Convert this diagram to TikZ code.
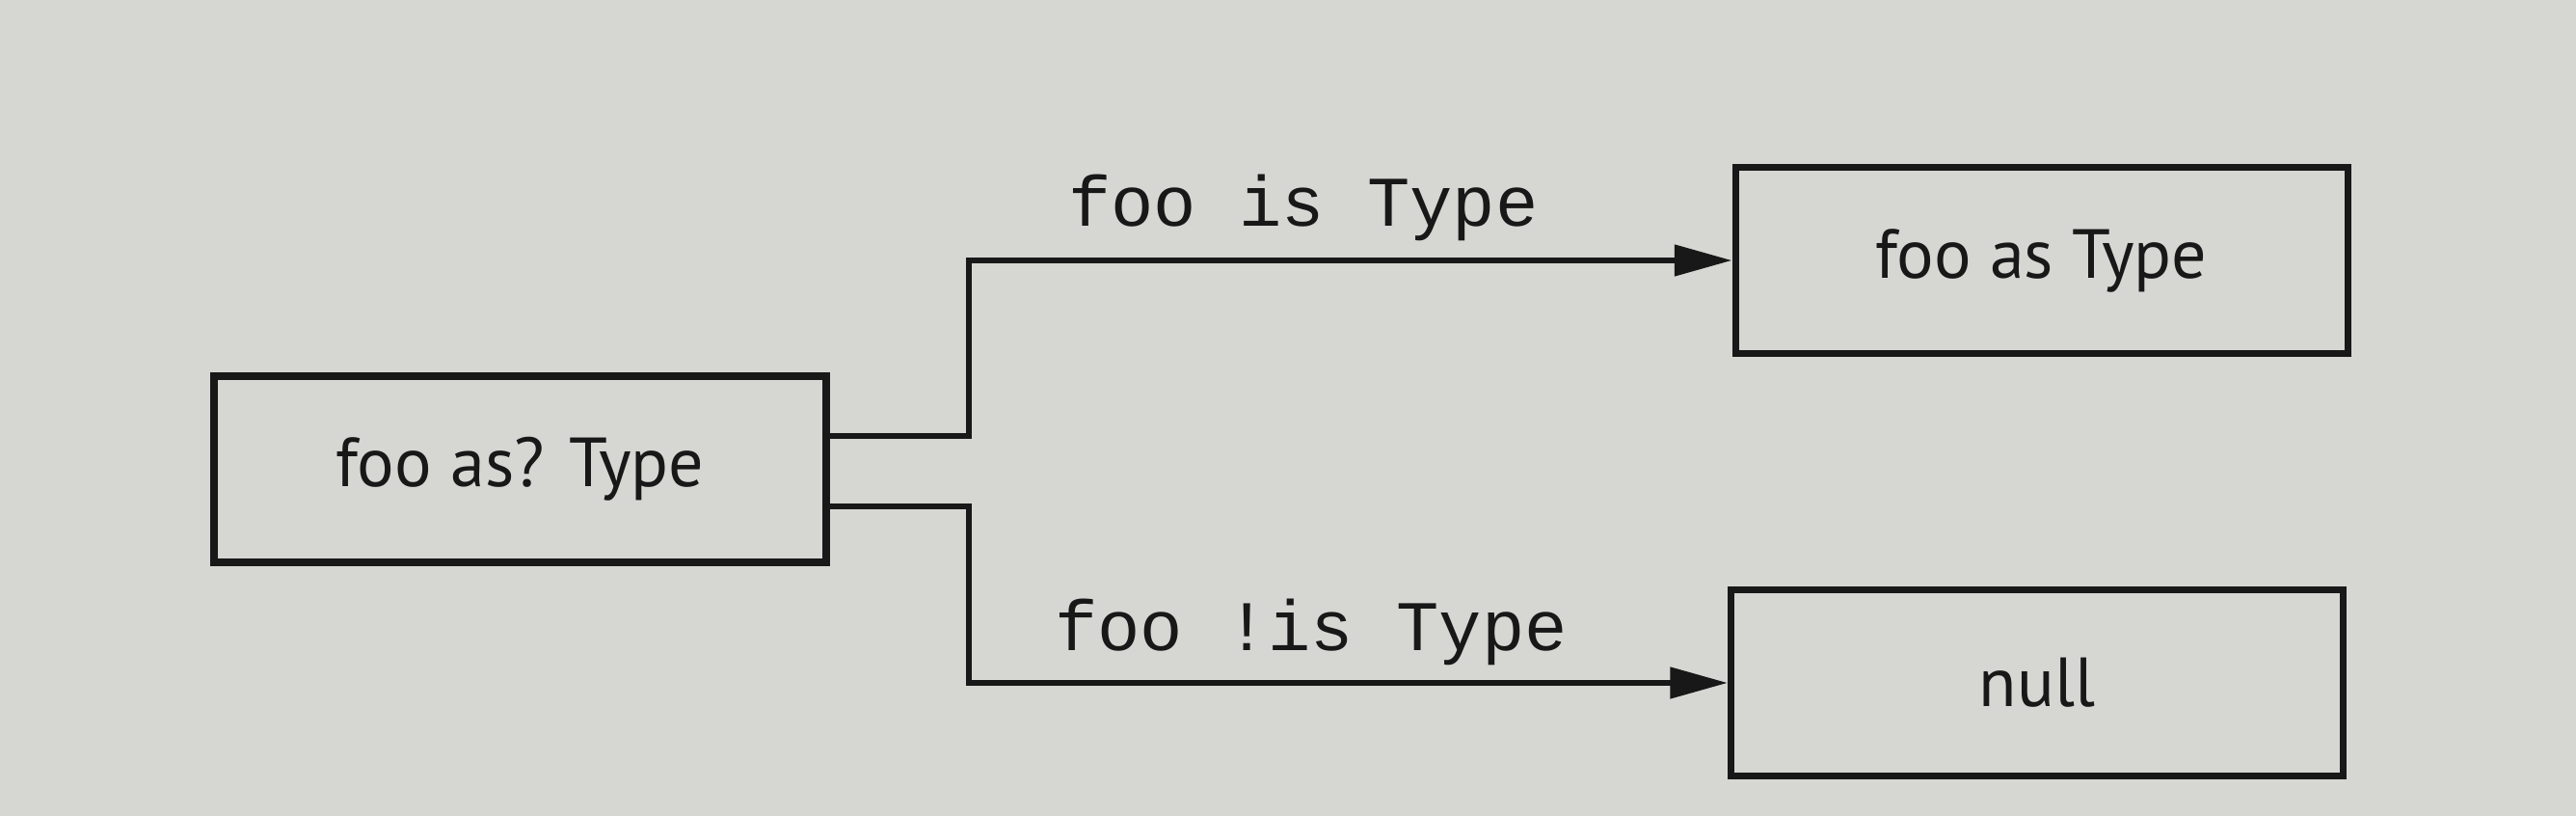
\documentclass[tikz,border=0pt]{standalone}
\usepackage{fontspec}
\setmainfont{PT Sans}
\setmonofont{Liberation Mono}
\usetikzlibrary{arrows.meta}

\definecolor{paper}{RGB}{214,214,211}
\definecolor{ink}{RGB}{24,24,24}

\tikzset{
  box/.style={draw=ink, line width=2pt, minimum width=6.35cm, minimum height=1.93cm,
    font=\fontsize{20.5}{24}\selectfont, text=ink},
  flow/.style={draw=ink, line width=1.7pt, -{Triangle[length=17pt,width=9pt]}},
  cond/.style={font=\ttfamily\fontsize{21}{24}\selectfont, text=ink, anchor=base}
}

\begin{document}
\begin{tikzpicture}
\fill[paper] (0,0) rectangle (26.72,8.46);
\useasboundingbox (0,0) rectangle (26.72,8.46);

\node[box] (cast) at (5.395, 3.595) {foo as? Type};
\node[box] (astype) at (21.175, 5.76) {foo as Type};
\node[box] (null) at (21.13, 1.38) {null};

% branch points
\coordinate (split) at (10.05, 3.6);
\coordinate (out1) at ([yshift=3.45mm]cast.east);
\coordinate (out2) at ([yshift=-3.85mm]cast.east);

\draw[flow] (out1) -- (out1 -| split) |- (astype.west);
\draw[flow] (out2) -- (out2 -| split) |- (null.west);

\node[cond] (yes) at (13.52, 6.11) {foo is Type};
\node[cond] (no) at (13.60, 1.71) {foo !is Type};
\end{tikzpicture}
\end{document}
